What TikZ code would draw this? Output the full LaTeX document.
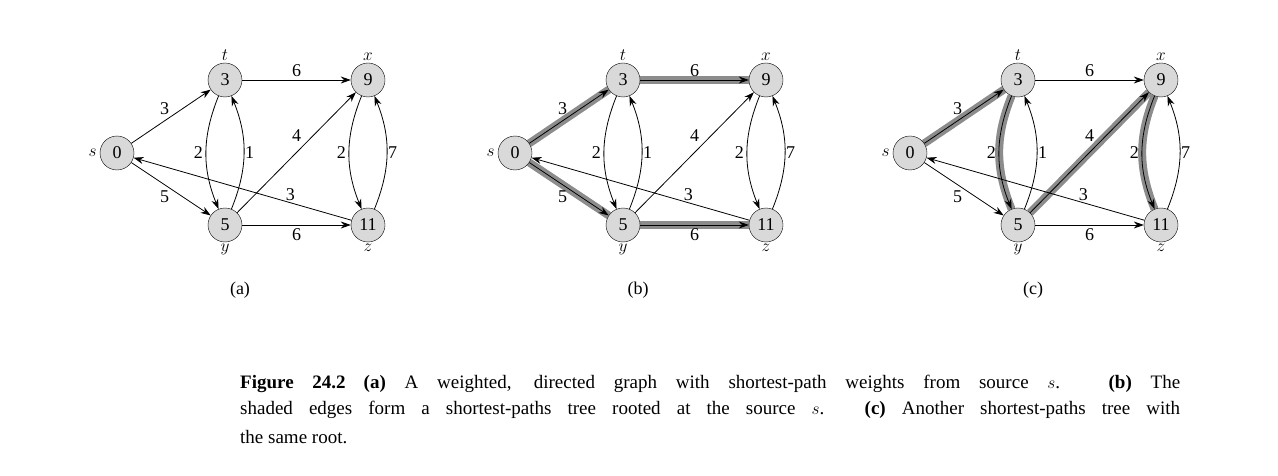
\documentclass[tikz,border=0pt]{standalone}
\usepackage{fontspec}
\setmainfont{Liberation Serif}
\usetikzlibrary{arrows.meta,positioning,backgrounds}
\newcommand{\spgraph}[2]{%
  \begin{scope}[xshift=#1]
    \node[vert] (s#2) at (117,153) {0};
    \node[vert] (t#2) at (225,80) {3};
    \node[vert] (x#2) at (368,80) {9};
    \node[vert] (y#2) at (225,225) {5};
    \node[vert] (z#2) at (368,225) {11};
    \node[vlab, left=1pt of s#2] {$s$};
    \node[vlab, above=0pt of t#2] {$t$};
    \node[vlab, above=0pt of x#2] {$x$};
    \node[vlab, below=0pt of y#2] {$y$};
    \node[vlab, below=0pt of z#2] {$z$};
    \path (s#2) edge node[wt, above left=-2pt] {3} (t#2);
    \path (s#2) edge node[wt, below left=-2pt] {5} (y#2);
    \path (t#2) edge node[wt, above] {6} (x#2);
    \path (y#2) edge node[wt, below] {6} (z#2);
    \path (t#2) edge[bend right=22] node[wt, left] {2} (y#2);
    \path (y#2) edge[bend right=22] node[wt, right=-2pt] {1} (t#2);
    \path (x#2) edge[bend right=22] node[wt, left] {2} (z#2);
    \path (z#2) edge[bend right=22] node[wt, right=-2pt] {7} (x#2);
    \path (y#2) edge node[wt, pos=.55, above left=2pt and -2pt] {4} (x#2);
    \path (z#2) edge node[wt, pos=.28, above=-1pt] {3} (s#2);
    \node[sublab] at (240,290) {(#2)};
  \end{scope}}
\begin{document}
\begin{tikzpicture}[x=1pt, y=-1pt, >={Stealth[length=10pt,width=7pt]}, font=\fontsize{18}{20}\selectfont]
  \tikzset{
    vert/.style={circle, draw, fill=black!15, minimum size=34pt, inner sep=0pt},
    vlab/.style={font=\fontsize{19}{20}\selectfont\itshape, inner sep=2pt},
    wt/.style={inner sep=3pt},
    sublab/.style={inner sep=0pt},
    every edge/.style={draw, ->, line width=0.8pt},
    tree/.style={draw=black!45, line width=8pt}
  }
  \useasboundingbox (0,0) rectangle (1278,476);
  \spgraph{0pt}{a}
  \spgraph{398pt}{b}
  \spgraph{793pt}{c}
  % shaded tree edges
  \begin{scope}[on background layer]
    \draw[tree] (sb) -- (tb);
    \draw[tree] (tb) -- (xb);
    \draw[tree] (sb) -- (yb);
    \draw[tree] (yb) -- (zb);
    \draw[tree] (sc) -- (tc);
    \draw[tree] (tc) to[bend right=22] (yc);
    \draw[tree] (yc) -- (xc);
    \draw[tree] (xc) to[bend right=22] (zc);
  \end{scope}
  % caption
  \node[anchor=base west, inner sep=0pt, font=\fontsize{19}{20}\selectfont] (cap1) at (240,388)
    {\makebox[940pt][s]{\textbf{Figure 24.2}\hspace{18pt}\textbf{(a)} A weighted, directed graph with shortest-path weights from source $s$. \textbf{(b)} The}};
  \node[anchor=base west, inner sep=0pt, font=\fontsize{19}{20}\selectfont] (cap2) at (240,414)
    {\makebox[940pt][s]{shaded edges form a shortest-paths tree rooted at the source $s$. \textbf{(c)} Another shortest-paths tree with}};
  \node[anchor=base west, inner sep=0pt, font=\fontsize{19}{20}\selectfont] (cap3) at (240,443)
    {the same root.};
\end{tikzpicture}
\end{document}
